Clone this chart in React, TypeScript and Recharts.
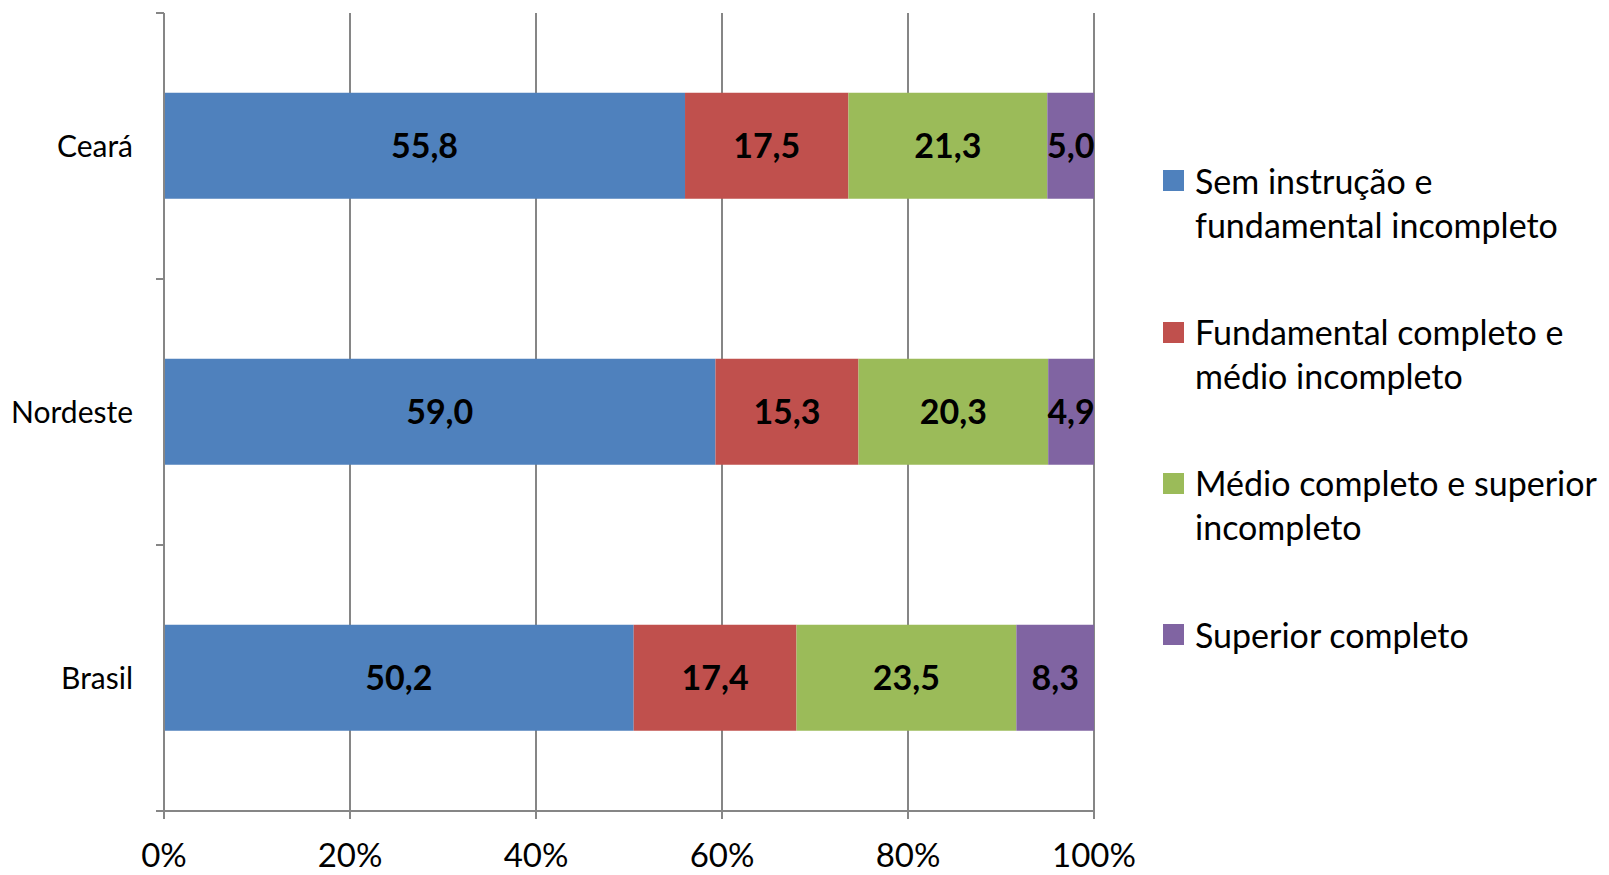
import { BarChart, Bar, XAxis, YAxis, CartesianGrid, LabelList, Legend } from 'recharts';

// categories (top to bottom) and the four education levels, in %
const categories = ['Ceará', 'Nordeste', 'Brasil'];
const semInstrucao = [55.8, 59.0, 50.2];
const fundamentalCompleto = [17.5, 15.3, 17.4];
const medioCompleto = [21.3, 20.3, 23.5];
const superiorCompleto = [5.0, 4.9, 8.3];
const percentTicks = [0, 0.2, 0.4, 0.6, 0.8, 1];

const SERIES = [
  { key: 'sem', name: 'Sem instrução e fundamental incompleto', lines: ['Sem instrução e', 'fundamental incompleto'], values: semInstrucao, color: '#4F81BD' },
  { key: 'fund', name: 'Fundamental completo e médio incompleto', lines: ['Fundamental completo e', 'médio incompleto'], values: fundamentalCompleto, color: '#C0504D' },
  { key: 'medio', name: 'Médio completo e superior incompleto', lines: ['Médio completo e superior', 'incompleto'], values: medioCompleto, color: '#9BBB59' },
  { key: 'sup', name: 'Superior completo', lines: ['Superior completo'], values: superiorCompleto, color: '#8064A2' },
];

const data = categories.map((name, i) => {
  const row: Record<string, string | number> = { name };
  SERIES.forEach((s) => {
    row[s.key] = s.values[i];
  });
  return row;
});

const AXIS_GRAY = '#868686';
const TICK_SIZE = 8;
const Y_TICK_MARGIN = 23;

const formatValue = (v: number) => v.toFixed(1).replace('.', ',');

function CategoryTick(props: any) {
  const { x, y, payload, index, visibleTicksCount } = props;
  const half = payload?.offset ?? 133;
  const right = x + Y_TICK_MARGIN + TICK_SIZE;
  const isLast = index === visibleTicksCount - 1;
  return (
    <g>
      <line x1={right - TICK_SIZE} x2={right} y1={y - half} y2={y - half} stroke={AXIS_GRAY} strokeWidth={2} />
      {isLast && (
        <line x1={right - TICK_SIZE} x2={right} y1={y + half} y2={y + half} stroke={AXIS_GRAY} strokeWidth={2} />
      )}
      <text x={x} y={y} dy="0.36em" textAnchor="end" fontSize={30} fill="#000">
        {payload.value}
      </text>
    </g>
  );
}

function LegendBox() {
  return (
    <div style={{ fontSize: 34, lineHeight: '44px', color: '#000', textAlign: 'left' }}>
      {SERIES.map((s, i) => (
        <div key={s.key} style={{ display: 'flex', alignItems: 'flex-start', marginBottom: i < SERIES.length - 1 ? 63.3 : 0 }}>
          <span style={{ width: 21, height: 21, background: s.color, marginTop: 11.5, marginRight: 11, flex: 'none' }} />
          <div style={{ whiteSpace: 'nowrap' }}>
            {s.lines.map((l) => (
              <div key={l}>{l}</div>
            ))}
          </div>
        </div>
      ))}
    </div>
  );
}

export default function App() {
  return (
    <div style={{ position: 'absolute', left: 0, top: 0, fontFamily: 'Lato, sans-serif', background: '#fff' }}>
      <BarChart
        width={1609}
        height={875}
        data={data}
        layout="vertical"
        stackOffset="expand"
        barCategoryGap="30%"
        margin={{ top: 13, right: 515, bottom: 0, left: 0 }}
      >
        <CartesianGrid horizontal={false} stroke={AXIS_GRAY} strokeWidth={2} />
        <XAxis
          type="number"
          domain={[0, 1]}
          ticks={percentTicks}
          tickFormatter={(v: number) => `${Math.round(v * 100)}%`}
          height={64}
          tickSize={TICK_SIZE}
          tickMargin={25}
          axisLine={{ stroke: AXIS_GRAY, strokeWidth: 2 }}
          tickLine={{ stroke: AXIS_GRAY, strokeWidth: 2 }}
          tick={{ fill: '#000', fontSize: 33 }}
        />
        <YAxis
          type="category"
          dataKey="name"
          width={164}
          tickSize={TICK_SIZE}
          tickMargin={Y_TICK_MARGIN}
          tickLine={false}
          axisLine={{ stroke: AXIS_GRAY, strokeWidth: 2 }}
          tick={<CategoryTick />}
        />
        <Legend
          layout="horizontal"
          verticalAlign="middle"
          align="center"
          content={<LegendBox />}
          wrapperStyle={{ left: 1163, top: 158.8, width: 446, height: 'auto', margin: 0 }}
        />
        {SERIES.map((s) => (
          <Bar key={s.key} dataKey={s.key} name={s.name} stackId="a" fill={s.color} isAnimationActive={false}>
            <LabelList
              dataKey={s.key}
              position="center"
              formatter={(v: any) => formatValue(Number(v))}
              fill="#000"
              fontSize={34}
              fontWeight="bold"
            />
          </Bar>
        ))}
      </BarChart>
    </div>
  );
}
